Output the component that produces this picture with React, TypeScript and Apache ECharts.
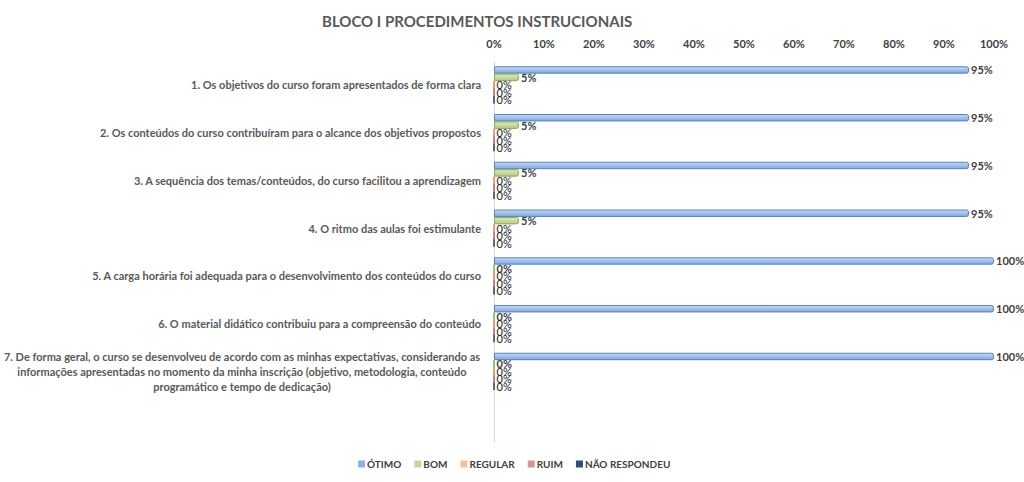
import React, { useEffect, useRef } from "react";
import * as echarts from "echarts";

const categories = [
  "1. Os objetivos do curso foram apresentados de forma clara",
  "2. Os conteúdos do curso contribuíram para o alcance dos objetivos propostos",
  "3. A sequência dos temas/conteúdos, do curso facilitou a aprendizagem",
  "4. O ritmo das aulas foi estimulante",
  "5. A carga horária foi adequada para o desenvolvimento dos conteúdos do curso",
  "6. O material didático contribuiu para a compreensão do conteúdo",
  "7. De forma geral, o curso se desenvolveu de acordo com as minhas expectativas, considerando as\ninformações apresentadas no momento da minha inscrição (objetivo, metodologia, conteúdo\nprogramático e tempo de dedicação)",
  "",
];

const seriesNames = ["ÓTIMO", "BOM", "REGULAR", "RUIM", "NÃO RESPONDEU"];

const otimo = [95, 95, 95, 95, 100, 100, 100, null];
const bom = [5, 5, 5, 5, 0, 0, 0, null];
const regular = [0, 0, 0, 0, 0, 0, 0, null];
const ruim = [0, 0, 0, 0, 0, 0, 0, null];
const naoRespondeu = [0, 0, 0, 0, 0, 0, 0, null];

const xTicks = [0, 10, 20, 30, 40, 50, 60, 70, 80, 90, 100];

const seriesData = [otimo, bom, regular, ruim, naoRespondeu];

const palette = [
  { top: "#C6DAF2", bottom: "#7EA7DD", border: "#5A83BA", legend: "#8DB3E2" },
  { top: "#DCE8C2", bottom: "#B4CC82", border: "#8DA858", legend: "#C3D69B" },
  { top: "#FCD8B8", bottom: "#F6AE72", border: "#D9894A", legend: "#FAC090" },
  { top: "#EDC3C2", bottom: "#D08C8A", border: "#B2605D", legend: "#D99694" },
  { top: "#5C7FAE", bottom: "#284D7E", border: "#1F3D66", legend: "#2C4D7A" },
];

const FONT = "Lato, 'Open Sans', sans-serif";

export default function App() {
  const ref = useRef<HTMLDivElement>(null);
  useEffect(() => {
    if (!ref.current) return;
    const chart = echarts.init(ref.current, undefined, { renderer: "svg" });
    chart.setOption({
      animation: false,
      backgroundColor: "#ffffff",
      title: {
        text: "BLOCO I PROCEDIMENTOS INSTRUCIONAIS",
        left: 317,
        top: 8,
        textStyle: {
          fontFamily: FONT,
          fontSize: 15,
          fontWeight: "bold",
          color: "#595959",
        },
      },
      legend: {
        bottom: 8,
        left: 353,
        itemWidth: 7,
        itemHeight: 7,
        itemGap: 13,
        icon: "rect",
        textStyle: {
          fontFamily: FONT,
          fontSize: 10,
          fontWeight: "bold",
          color: "#404040",
          padding: [0, 0, 0, -3],
        },
        data: seriesNames.map((n, i) => ({
          name: n,
          itemStyle: { color: palette[i].legend, borderWidth: 0 },
        })),
      },
      grid: { left: 491, right: 30, top: 61, bottom: 39, containLabel: false },
      xAxis: {
        type: "value",
        position: "top",
        min: 0,
        max: 100,
        interval: 10,
        axisLine: { show: false },
        axisTick: { show: false },
        splitLine: { show: false },
        axisLabel: {
          formatter: (v: number) => (xTicks.includes(v) ? `${v}%` : ""),
          fontFamily: FONT,
          fontSize: 11,
          fontWeight: "bold",
          color: "#404040",
          margin: 12,
        },
      },
      yAxis: {
        type: "category",
        inverse: true,
        data: categories,
        axisLine: { show: true, lineStyle: { color: "#D9D9D9", width: 1 } },
        axisTick: { show: false },
        axisLabel: {
          fontFamily: FONT,
          fontSize: 11,
          fontWeight: "bold",
          color: "#595959",
          margin: 13,
          lineHeight: 15,
          formatter: (v: string) => {
            if (v.includes("\n")) {
              return v
                .split("\n")
                .map((l) => `{w|${l}}`)
                .join("\n");
            }
            return v;
          },
          rich: {
            w: {
              width: 478,
              align: "center",
              fontFamily: FONT,
              fontSize: 11,
              fontWeight: "bold",
              color: "#595959",
              lineHeight: 15,
            },
          },
        },
      },
      series: seriesData.map((d, i) => ({
        name: seriesNames[i],
        type: "bar",
        data: d,
        barGap: "0%",
        barCategoryGap: "22%",
        itemStyle: {
          color: new echarts.graphic.LinearGradient(0, 0, 0, 1, [
            { offset: 0, color: palette[i].top },
            { offset: 1, color: palette[i].bottom },
          ]),
          borderColor: palette[i].border,
          borderWidth: 1,
          borderRadius: [0, 2, 2, 0],
        },
        label: {
          show: true,
          position: "right",
          distance: 2,
          formatter: (p: any) => `${p.value}%`,
          fontFamily: FONT,
          fontSize: 11,
          fontWeight: i < 2 ? "bold" : "normal",
          color: i < 2 ? "#404040" : "#202020",
        },
      })),
    });
    return () => chart.dispose();
  }, []);
  return (
    <div
      ref={ref}
      style={{ position: "absolute", left: 0, top: 0, width: 1024, height: 482 }}
    />
  );
}
